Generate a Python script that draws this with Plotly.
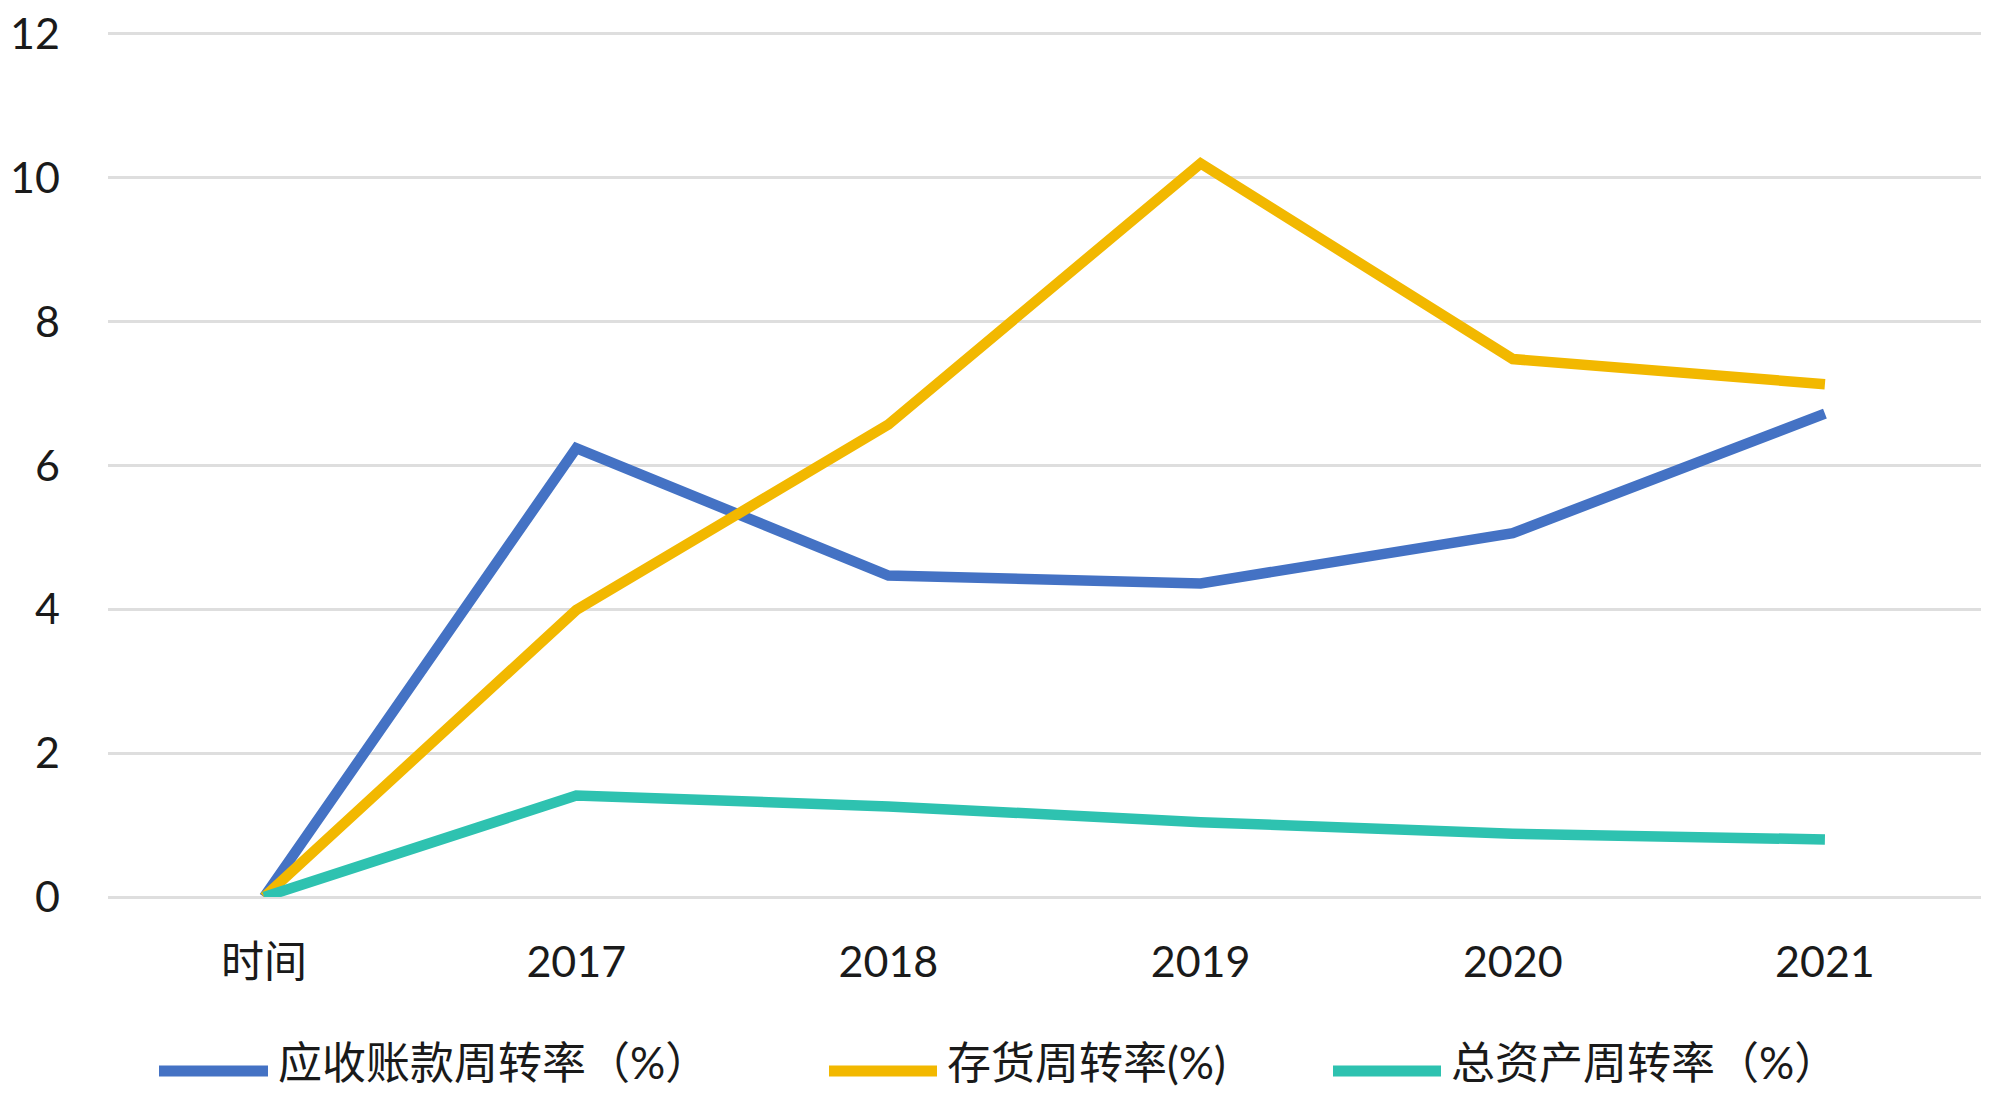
import plotly.graph_objects as go

categories = ["时间", "2017", "2018", "2019", "2020", "2021"]
series_names = ["应收账款周转率（%）", "存货周转率(%)", "总资产周转率（%）"]
receivable_turnover = [0, 6.24, 4.47, 4.36, 5.06, 6.72]
inventory_turnover = [0, 3.99, 6.57, 10.2, 7.48, 7.13]
asset_turnover = [0, 1.41, 1.26, 1.04, 0.88, 0.80]
y_ticks = [0, 2, 4, 6, 8, 10, 12]

colors = ["#4472C4", "#F2B800", "#2EC2B0"]
all_values = [receivable_turnover, inventory_turnover, asset_turnover]

W, H = 2000, 1111
L, R, T, B = 108, 19, 30, 214
Y_TOP = 12.055
font_family = "Lato, 'Noto Sans CJK SC', sans-serif"

fig = go.Figure()
for name, vals, c in zip(series_names, all_values, colors):
    fig.add_trace(go.Scatter(
        x=categories, y=vals, mode="lines", name=name,
        line=dict(color=c, width=10.5), showlegend=False,
    ))

# custom legend (long line samples like the original)
def px_x(p):
    return (p - L) / (W - L - R)

def px_y(p):
    return (H - B - p) / (H - T - B)

legend_line_y = 1071
legend_text_y = 1062
legend_items = [(159, 268), (829, 937), (1333, 1441)]
for (x0, x1), name, c in zip(legend_items, series_names, colors):
    fig.add_shape(type="line", xref="paper", yref="paper",
                  x0=px_x(x0), x1=px_x(x1), y0=px_y(legend_line_y), y1=px_y(legend_line_y),
                  line=dict(color=c, width=11))
    fig.add_annotation(xref="paper", yref="paper", x=px_x(x1 + 8), y=px_y(legend_text_y),
                       text=name, showarrow=False, xanchor="left", yanchor="middle",
                       font=dict(family=font_family, size=44, color="#1a1a1a"))

fig.update_layout(
    width=W, height=H,
    margin=dict(l=L, r=R, t=T, b=B, pad=0, autoexpand=False),
    paper_bgcolor="white", plot_bgcolor="white",
    font=dict(family=font_family, size=42, color="#1a1a1a"),
    showlegend=False,
)
fig.update_xaxes(
    type="category", range=[-0.5, 5.5], showgrid=False, showline=False,
    ticks="", tickfont=dict(size=43), ticklabelstandoff=36, automargin=False,
)
fig.update_yaxes(
    range=[0, Y_TOP], tickvals=y_ticks, showgrid=True, gridcolor="#DEDEDE", gridwidth=3,
    zeroline=True, zerolinecolor="#DEDEDE", zerolinewidth=3, showline=False,
    ticks="", tickfont=dict(size=43), ticklabelstandoff=47, automargin=False,
)

fig.write_html(
    "out.html",
    config={"displayModeBar": False},
    post_script="document.body.style.margin='0';document.body.style.overflow='hidden';",
)
